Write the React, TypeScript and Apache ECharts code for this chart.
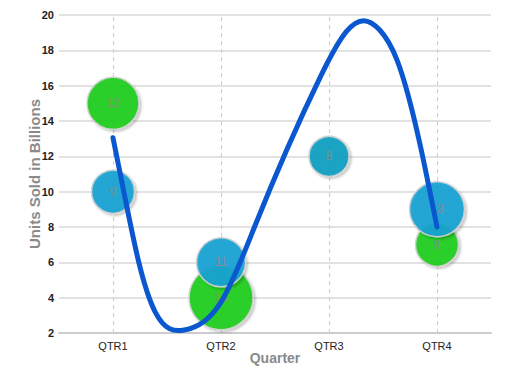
import React, { useEffect, useRef } from "react";
import * as echarts from "echarts";

const categories = ["QTR1", "QTR2", "QTR3", "QTR4"];
const greenValues = [15, 4, null, 7];
const greenSizes = [12, 16, null, 9];
const blueValues = [10, 6, null, 9];
const blueSizes = [9, 11, null, 13];
const tealValues = [null, null, 12, null];
const tealSizes = [null, null, 8, null];
// trend curve: [category position (QTR1 = 0), units]
const trendPoints = [
  [0, 13.05],
  [0.11, 9.7],
  [0.235, 6.1],
  [0.39, 3.2],
  [0.66, 2.17],
  [1.0, 3.75],
  [1.31, 8.0],
  [1.92, 16.5],
  [2.16, 19.06],
  [2.32, 19.68],
  [2.47, 19.15],
  [2.63, 17.45],
  [2.84, 12.75],
  [3.0, 8.0],
];

const sizeToDiameter = (s: number) => 16 + 3 * s;
const FONT = "Liberation Sans, Arial, sans-serif";

function bubbleData(values: (number | null)[], sizes: (number | null)[]) {
  const out: any[] = [];
  values.forEach((v, i) => {
    if (v !== null && sizes[i] !== null) out.push([categories[i], v, sizes[i]]);
  });
  return out;
}

// natural cubic spline through pixel points, returned as SVG path data of bezier segments
function splinePath(pts: number[][]): string {
  const n = pts.length;
  const x = pts.map((p) => p[0]);
  const y = pts.map((p) => p[1]);
  const h: number[] = [];
  for (let i = 0; i < n - 1; i++) h.push(x[i + 1] - x[i]);
  const M = new Array(n).fill(0);
  if (n > 2) {
    const a: number[] = [], b: number[] = [], c: number[] = [], d: number[] = [];
    for (let i = 1; i < n - 1; i++) {
      a.push(h[i - 1]);
      b.push(2 * (h[i - 1] + h[i]));
      c.push(h[i]);
      d.push(6 * ((y[i + 1] - y[i]) / h[i] - (y[i] - y[i - 1]) / h[i - 1]));
    }
    const m = b.length;
    for (let i = 1; i < m; i++) {
      const w = a[i] / b[i - 1];
      b[i] -= w * c[i - 1];
      d[i] -= w * d[i - 1];
    }
    const sol = new Array(m).fill(0);
    sol[m - 1] = d[m - 1] / b[m - 1];
    for (let i = m - 2; i >= 0; i--) sol[i] = (d[i] - c[i] * sol[i + 1]) / b[i];
    for (let i = 0; i < m; i++) M[i + 1] = sol[i];
  }
  let path = `M${x[0]},${y[0]}`;
  for (let i = 0; i < n - 1; i++) {
    const hi = h[i];
    const sl = (y[i + 1] - y[i]) / hi;
    const d0 = sl - (hi * (2 * M[i] + M[i + 1])) / 6;
    const d1 = sl + (hi * (M[i] + 2 * M[i + 1])) / 6;
    const c1x = x[i] + hi / 3, c1y = y[i] + (hi / 3) * d0;
    const c2x = x[i + 1] - hi / 3, c2y = y[i + 1] - (hi / 3) * d1;
    path += ` C${c1x},${c1y} ${c2x},${c2y} ${x[i + 1]},${y[i + 1]}`;
  }
  return path;
}

const bubbleStyle = (color: string) => ({
  color,
  opacity: 0.93,
  borderColor: "#d2d2d2",
  borderWidth: 1.5,
  shadowColor: "rgba(0,0,0,0.22)",
  shadowBlur: 2,
  shadowOffsetX: 2,
  shadowOffsetY: 2,
});

const bubbleLabel = {
  show: true,
  position: "inside",
  color: "#8a8a8a",
  fontSize: 12,
  fontFamily: FONT,
  formatter: (p: any) => String(p.value[2]),
};

export default function App() {
  const ref = useRef<HTMLDivElement>(null);
  useEffect(() => {
    if (!ref.current) return;
    const chart = echarts.init(ref.current, undefined, { renderer: "svg" });
    chart.setOption({
      animation: false,
      backgroundColor: "#ffffff",
      grid: { left: 51, right: 6, top: 7, bottom: 44 },
      xAxis: [
        {
          type: "category",
          data: categories,
          boundaryGap: true,
          name: "Quarter",
          nameLocation: "middle",
          nameGap: 18,
          nameMoveOverlap: false,
          nameTextStyle: {
            color: "#8a8a8a",
            fontSize: 14,
            fontWeight: "bold",
            fontFamily: FONT,
          },
          axisLine: { show: true, lineStyle: { color: "#cccccc", width: 2 } },
          axisTick: { show: false },
          axisLabel: {
            color: "#222222",
            fontSize: 11,
            margin: 7,
            fontFamily: FONT,
          },
          splitLine: { show: false },
        },
        {
          type: "value",
          min: -0.5,
          max: 3.5,
          show: false,
          splitLine: { show: false },
        },
      ],
      yAxis: {
        type: "value",
        min: 2,
        max: 20,
        interval: 2,
        name: "Units Sold in Billions",
        nameLocation: "middle",
        nameGap: 17,
        nameMoveOverlap: false,
        nameRotate: 90,
        nameTextStyle: {
          color: "#8a8a8a",
          fontSize: 15,
          fontWeight: "bold",
          fontFamily: FONT,
        },
        axisLine: { show: false },
        axisTick: { show: false },
        axisLabel: {
          color: "#222222",
          fontSize: 11,
          fontWeight: "bold",
          margin: 5,
          fontFamily: FONT,
        },
        splitLine: { show: true, lineStyle: { color: "#d8d8d8", width: 1.5 } },
      },
      series: [
        {
          type: "scatter",
          name: "Green",
          data: bubbleData(greenValues, greenSizes),
          symbolSize: (v: any) => sizeToDiameter(v[2]),
          itemStyle: bubbleStyle("#1ccd1c"),
          label: bubbleLabel,
          z: 2,
          markLine: {
            silent: true,
            symbol: "none",
            label: { show: false },
            lineStyle: { color: "#cccccc", type: [4, 4], width: 1 },
            data: categories.map((c) => ({ xAxis: c })),
            z: 1,
          },
        },
        {
          type: "scatter",
          name: "Blue",
          data: bubbleData(blueValues, blueSizes),
          symbolSize: (v: any) => sizeToDiameter(v[2]),
          itemStyle: bubbleStyle("#1aa3d3"),
          label: bubbleLabel,
          z: 3,
        },
        {
          type: "scatter",
          name: "Teal",
          data: bubbleData(tealValues, tealSizes),
          symbolSize: (v: any) => sizeToDiameter(v[2]),
          itemStyle: bubbleStyle("#119fc1"),
          label: bubbleLabel,
          z: 3,
        },
        {
          type: "custom",
          name: "Trend",
          xAxisIndex: 1,
          data: trendPoints,
          encode: { x: 0, y: 1 },
          silent: true,
          z: 5,
          renderItem: (params: any, api: any) => {
            if (params.dataIndex !== 0) return null;
            const px = trendPoints.map((p) => api.coord(p));
            return {
              type: "path",
              shape: { pathData: splinePath(px) },
              style: {
                fill: "none",
                stroke: "#0a57cf",
                lineWidth: 5,
                lineCap: "round",
                lineJoin: "round",
              },
            };
          },
        },
      ],
    });
    return () => chart.dispose();
  }, []);
  return <div ref={ref} style={{ width: 489, height: 369 }} />;
}
